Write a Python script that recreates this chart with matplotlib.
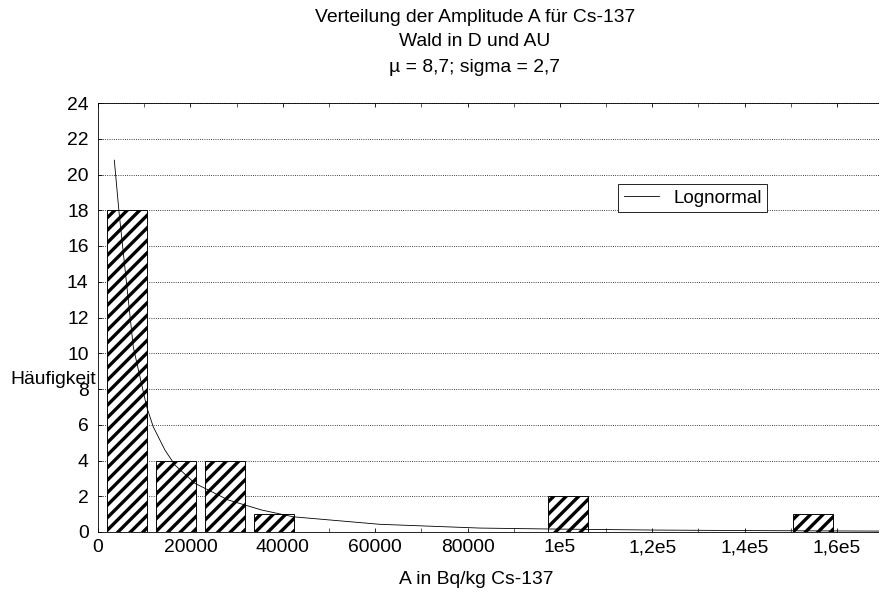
import numpy as np
import matplotlib
matplotlib.use('Agg')
import matplotlib.pyplot as plt

# histogram of A (Bq/kg Cs-137)
bin_centers = [6300, 16900, 27500, 38100, 48700, 59300, 69900, 80500, 91100,
               101700, 112300, 122900, 133500, 144100, 154700]
counts = [18, 4, 4, 1, 0, 0, 0, 0, 0, 2, 0, 0, 0, 0, 1]
bar_width = 8650

# fitted lognormal curve
curve_x = [3530, 4550, 7640, 10540, 11970, 14500, 16670, 21000, 28200, 35430,
           39760, 42270, 61040, 82680, 97120, 120000, 140000, 160000, 170000]
curve_y = [20.8, 17.9, 10.35, 7.0, 5.88, 4.58, 3.74, 2.72, 1.79, 1.23,
           0.99, 0.85, 0.43, 0.22, 0.17, 0.11, 0.08, 0.06, 0.05]

xticks = [0, 20000, 40000, 60000, 80000, 100000, 120000, 140000, 160000]
xticklabels = ['0', '20000', '40000', '60000', '80000', '1e5', '1,2e5', '1,4e5', '1,6e5']

plt.rcParams['font.family'] = ['Liberation Sans', 'DejaVu Sans']
plt.rcParams['hatch.linewidth'] = 3.2

fs = 18.5
dpi = 75
fig = plt.figure(figsize=(880/dpi, 597/dpi), dpi=dpi)
ax = fig.add_axes([98/880, 1-532/597, 1-98/880, (532-103)/597])

nz = [i for i, c in enumerate(counts) if c > 0]
ax.bar([bin_centers[i] for i in nz], [counts[i] for i in nz], width=bar_width,
       facecolor='white', edgecolor='black', hatch='//', linewidth=0.9, zorder=2)
ax.plot(curve_x, curve_y, color='black', linewidth=0.8, zorder=3, label='Lognormal')

ax.set_xlim(0, 169300)
ax.set_ylim(0, 24)
ax.set_yticks(range(0, 25, 2))
ax.set_xticks(xticks)
ax.set_xticklabels(xticklabels)
ax.set_xticks(range(10000, 170000, 20000), minor=True)
ax.tick_params(axis='both', which='both', direction='in', labelsize=fs, length=4,
               top=True, right=False)
ax.tick_params(axis='x', pad=7)
ax.tick_params(axis='y', pad=9)
ax.spines['right'].set_visible(False)
ax.yaxis.grid(True, linestyle=':', color='black', linewidth=0.8, zorder=1)
ax.set_axisbelow(True)

leg = ax.legend(loc='upper left', bbox_to_anchor=(618/880, 1-184/597),
                bbox_transform=fig.transFigure, borderaxespad=0, fancybox=False,
                framealpha=1, edgecolor='black', fontsize=18, handlelength=1.9,
                borderpad=0.3, handletextpad=0.75)
leg.get_frame().set_linewidth(0.8)

fig.text(475/880, 1-18/597, 'Verteilung der Amplitude A für Cs-137', ha='center', va='center', fontsize=fs)
fig.text(475/880, 1-42/597, 'Wald in D und AU', ha='center', va='center', fontsize=fs)
fig.text(475/880, 1-67/597, 'µ = 8,7; sigma = 2,7', ha='center', va='center', fontsize=fs)
fig.text(10/880, 1-379/597, 'Häufigkeit', ha='left', va='center', fontsize=fs)
fig.text(476/880, 1-580/597, 'A in Bq/kg Cs-137', ha='center', va='center', fontsize=fs)

fig.savefig('out.png', dpi=dpi)
